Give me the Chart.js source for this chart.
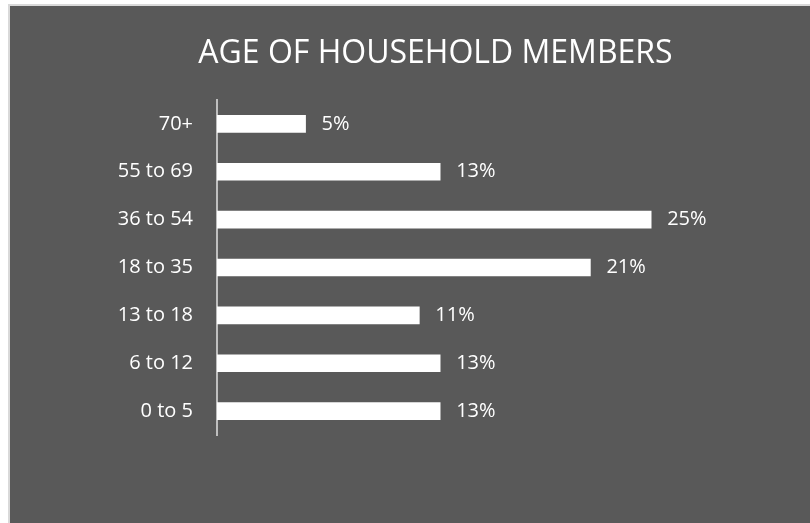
<!DOCTYPE html>
<html lang="en">
<head>
    <meta charset="UTF-8">
    <title>Age of Household Members</title>
    <script src="https://cdn.jsdelivr.net/npm/chart.js"></script>
    <style>
        body {
            margin: 0;
            background-color: #ffffff;
        }
        .frame {
            position: absolute;
            left: 8px;
            top: 4px;
            width: 800px;
            height: 517px;
            background-color: #595959;
            border-left: 2px solid #d9d9d9;
            border-top: 2px solid #d9d9d9;
            overflow: hidden;
        }
        .chart-title {
            position: absolute;
            left: 0;
            top: 29px;
            width: 851px;
            text-align: center;
            white-space: nowrap;
            font-family: 'Open Sans', sans-serif;
            font-size: 32px;
            line-height: 1;
            color: #ffffff;
        }
        canvas {
            display: block;
        }
    </style>
</head>
<body>
    <div class="frame">
        <canvas id="ageChart" width="800" height="517"></canvas>
        <div class="chart-title">AGE OF HOUSEHOLD MEMBERS</div>
    </div>

    <script>
        // Tranches d'âge et parts (%)
        const categories = ['70+', '55 to 69', '36 to 54', '18 to 35', '13 to 18', '6 to 12', '0 to 5'];
        const shares = [5.1, 12.85, 25.0, 21.5, 11.65, 12.85, 12.85];
        const shareLabels = ['5%', '13%', '25%', '21%', '11%', '13%', '13%'];

        const textFont = { family: "'Open Sans', sans-serif", size: 20 };

        // Étiquettes de valeur à droite des barres
        const valueLabels = {
            id: 'valueLabels',
            afterDatasetsDraw(chart) {
                const ctx = chart.ctx;
                const meta = chart.getDatasetMeta(0);
                ctx.save();
                ctx.font = textFont.size + 'px ' + textFont.family;
                ctx.fillStyle = '#ffffff';
                ctx.textAlign = 'left';
                ctx.textBaseline = 'middle';
                meta.data.forEach((bar, i) => {
                    ctx.fillText(shareLabels[i], bar.x + 16, bar.y);
                });
                ctx.restore();
            }
        };

        new Chart(document.getElementById('ageChart'), {
            type: 'bar',
            data: {
                labels: categories,
                datasets: [{
                    data: shares,
                    backgroundColor: '#ffffff',
                    borderWidth: 0,
                    barThickness: 17
                }]
            },
            options: {
                indexAxis: 'y',
                responsive: false,
                animation: false,
                layout: {
                    padding: { top: 94, right: 72, bottom: 88 }
                },
                plugins: {
                    legend: { display: false },
                    tooltip: { enabled: false },
                    title: { display: false }
                },
                scales: {
                    x: {
                        display: false,
                        min: 0,
                        max: 30
                    },
                    y: {
                        afterFit(scale) { scale.width = 207; },
                        grid: { display: false, drawTicks: false },
                        border: { display: true, color: '#bfbfbf', width: 2 },
                        ticks: {
                            color: '#ffffff',
                            font: textFont,
                            padding: 24
                        }
                    }
                }
            },
            plugins: [valueLabels]
        });
    </script>
</body>
</html>
